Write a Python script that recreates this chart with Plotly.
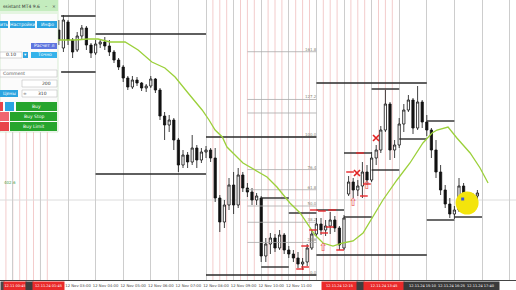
import plotly.graph_objects as go
import pandas as pd

DAY = pd.Timestamp("2024-11-12")


def at(h):
    return DAY + pd.Timedelta(hours=h)


# ---------------- candles (10-minute bars) ----------------
candle_start = "2024-11-12 02:40"
opens = [270, 252, 278, 260, 250, 264, 272, 255, 247, 256, 258, 254, 248, 240, 233, 222, 213, 220, 217, 212,
         214, 221, 210, 184, 175, 180, 160, 135, 145, 138, 152, 140, 148, 150, 142, 102, 78, 95, 115, 95,
         125, 112, 108, 100, 102, 44, 56, 62, 52, 65, 50, 46, 42, 36, 38, 52, 66, 76, 70, 74,
         80, 72, 52, 106, 118, 110, 114, 128, 120, 142, 150, 170, 196, 150, 155, 176, 190, 200, 172, 198,
         178, 170, 150, 128, 110, 96, 86, 90, 114, 100, 95, 104]
highs = [280, 285, 280, 262, 268, 275, 274, 257, 260, 260, 263, 260, 250, 242, 235, 224, 224, 223, 218, 216,
         224, 222, 212, 188, 185, 182, 162, 150, 148, 165, 155, 152, 154, 152, 152, 105, 100, 122, 128, 132,
         128, 117, 112, 107, 104, 62, 67, 66, 70, 67, 54, 50, 48, 42, 56, 70, 82, 82, 80, 88,
         84, 74, 85, 124, 122, 120, 138, 135, 148, 155, 174, 210, 198, 160, 182, 196, 205, 202, 214, 200,
         185, 172, 160, 135, 115, 102, 94, 122, 117, 105, 107, 110]
lows = [255, 248, 255, 242, 248, 260, 250, 242, 245, 252, 250, 244, 237, 230, 218, 210, 211, 214, 209, 208,
        212, 207, 180, 160, 168, 150, 128, 132, 132, 135, 132, 137, 142, 138, 98, 68, 72, 90, 86, 92,
        108, 103, 95, 95, 38, 38, 46, 48, 50, 46, 42, 38, 32, 30, 34, 50, 64, 65, 64, 66,
        68, 50, 50, 104, 102, 104, 102, 115, 118, 135, 147, 168, 140, 142, 152, 168, 188, 166, 170, 172,
        164, 142, 122, 105, 92, 82, 81, 88, 95, 90, 92, 98]
closes = [260, 280, 260, 248, 264, 272, 255, 247, 256, 258, 254, 248, 240, 233, 222, 213, 220, 217, 212, 214,
          221, 210, 184, 175, 180, 160, 135, 145, 138, 152, 140, 148, 150, 142, 102, 78, 95, 115, 95, 125,
          112, 108, 100, 104, 44, 56, 62, 52, 65, 50, 46, 42, 36, 38, 52, 66, 76, 70, 74, 80,
          72, 55, 82, 118, 110, 114, 128, 120, 142, 150, 170, 196, 150, 155, 176, 190, 200, 172, 198, 178,
          170, 150, 128, 110, 96, 86, 90, 114, 100, 95, 104, 107]
times = pd.date_range(candle_start, periods=len(opens), freq="10min")

# ---------------- moving average ----------------
ma_hours = [2.64, 3.25, 3.73, 4.09, 4.52, 5.07, 5.54, 6.04, 6.51, 6.88,
            7.35, 7.86, 8.11, 8.33, 8.59, 8.76, 9.34, 10.21, 10.57, 11.04,
            11.41, 11.77, 11.95, 12.24, 12.6, 12.96, 13.33, 13.69, 14.01, 14.41,
            14.92, 15.39, 15.86, 16.19, 16.37, 16.77, 17.09, 17.57, 17.93, 18.22]
ma_values = [260, 260, 261, 261, 258, 258, 250, 238, 232, 223,
             207, 190, 180, 170, 163, 153, 137, 123, 113, 97,
             87, 73, 65, 57, 54, 57, 59, 67, 82, 100,
             120, 137, 157, 167, 170, 173, 162, 147, 132, 117]

# ---------------- hourly high/low level lines ----------------
level_start = [2.75, 2.75, 4, 4, 8, 8, 10, 10, 11, 12, 12, 12, 13, 13, 14, 14, 15, 16, 16, 17]
level_end = [4, 4, 8, 8, 12, 12, 11, 11, 12, 13, 16, 16, 14, 14, 15, 15, 16, 17, 17, 18]
level_price = [284, 228, 266, 126, 163, 25, 102, 33, 87, 90, 45, 217, 147, 83, 211, 130, 161, 179, 80, 83]

# ---------------- Fibonacci grid ----------------
fib_start, fib_end = 9.5, 12.0
fib_low, fib_high = 25, 163
fib_ratios = [0.0, 23.6, 38.2, 50.0, 61.8, 76.4, 100.0, 117.4, 127.2, 161.8]
fib_labels = ["0.0", "23.6", "38.2", "50.0", "61.8", "76.4", "100.0", "", "127.2", "161.8"]

# ---------------- pending-order marks ----------------
dash_hours = [11.41, 11.59, 11.59, 11.88, 11.91, 12.2, 12.57, 12.28, 12.49, 12.86, 13.22, 13.58, 13.72, 13.83]
dash_price = [31, 33, 54, 70, 90, 89, 90, 67, 73, 50, 128, 147, 104, 116]
cross_hours = [13.47, 14.16]
cross_price = [127, 162]
arrow_hours = [12.24, 13.33, 13.83]
arrow_price = [52, 97, 114]
circle_hour, circle_price = 17.46, 97

# ---------------- time scale ----------------
grid_hours = list(range(0, 20))
labelled_hours = [3, 4, 5, 6, 7, 8, 9, 10, 11]

pink_lines = ["00:45", "01:00", "01:15", "01:30", "01:45", "02:00", "02:15",
              "08:15", "08:30", "08:45", "09:15", "09:30", "09:45", "10:15", "10:30", "10:45",
              "11:15", "11:30", "11:45", "12:15", "12:30", "12:45", "13:15", "13:30", "13:45",
              "14:15", "14:30", "14:45"]

# labels of those lines on the time scale: (start hour, width px, colour, text)
badges = [(0.536, 3, "#4a4a4a", ""), (0.645, 22, "#ea2a2a", "12.11 00:45"),
          (1.442, 7, "#3e3e3e", ""), (1.696, 31, "#ea2a2a", "12.11.24 01:45"),
          (12.167, 35, "#ea2a2a", "12.11.24 12:15"), (13.435, 7, "#3e3e3e", ""),
          (13.688, 40, "#ea2a2a", "12.11.24 13:45"),
          (15.138, 95, "#3a3a3a", "12.11.24 15:10  12.11.24 16:25  12.11.24 17:40")]

W, H_PLOT = 516, 280

fig = go.Figure()

fig.add_trace(go.Scatter(x=[at(circle_hour)], y=[circle_price], mode="markers",
                         marker=dict(size=23, color="#f3e40c", line=dict(width=0)), hoverinfo="skip"))

# fib lines
fx, fy = [], []
for r in fib_ratios:
    p = fib_low + (fib_high - fib_low) * r / 100.0
    fx += [at(fib_start), at(fib_end), None]
    fy += [p, p, None]
fig.add_trace(go.Scatter(x=fx, y=fy, mode="lines", line=dict(color="#a9a9a9", width=0.8), hoverinfo="skip"))
fig.add_trace(go.Scatter(x=[at(fib_end)] * len(fib_ratios),
                         y=[fib_low + (fib_high - fib_low) * r / 100.0 for r in fib_ratios],
                         mode="text", text=fib_labels, textposition="top left",
                         textfont=dict(size=4, color="#8a8a7a", family="DejaVu Sans"), hoverinfo="skip"))

# level lines
lx, ly = [], []
for s, e, p in zip(level_start, level_end, level_price):
    lx += [at(s), at(e), None]
    ly += [p, p, None]
fig.add_trace(go.Scatter(x=lx, y=ly, mode="lines", line=dict(color="#2a2a2a", width=1.4), hoverinfo="skip"))

# MA
fig.add_trace(go.Scatter(x=[at(h) for h in ma_hours], y=ma_values, mode="lines",
                         line=dict(color="#9bd03a", width=1.3), hoverinfo="skip"))

# candles
fig.add_trace(go.Candlestick(x=times, open=opens, high=highs, low=lows, close=closes,
                             increasing=dict(line=dict(color="#111111", width=0.8), fillcolor="white"),
                             decreasing=dict(line=dict(color="#111111", width=0.8), fillcolor="#111111"),
                             whiskerwidth=0, hoverinfo="skip"))

# red order dashes
dx, dy = [], []
for h, p in zip(dash_hours, dash_price):
    dx += [at(h - 0.14), at(h + 0.14), None]
    dy += [p, p, None]
fig.add_trace(go.Scatter(x=dx, y=dy, mode="lines", line=dict(color="#e8272b", width=1.4), hoverinfo="skip"))
fig.add_trace(go.Scatter(x=[at(h) for h in cross_hours], y=cross_price, mode="markers",
                         marker=dict(symbol="x-thin", size=6, line=dict(color="#e02020", width=1.6)),
                         hoverinfo="skip"))
fig.add_trace(go.Scatter(x=[at(h) for h in arrow_hours], y=arrow_price, mode="text", text=["⇧"] * len(arrow_hours),
                         textfont=dict(size=11, color="#e84848", family="DejaVu Sans"), hoverinfo="skip"))
fig.add_trace(go.Scatter(x=[at(17.3)], y=[101], mode="markers",
                         marker=dict(size=3, color="#3a56d8", symbol="square"), hoverinfo="skip"))

shapes = []
for hm in pink_lines:
    hh, mm = hm.split(":")
    t = at(int(hh) + int(mm) / 60)
    shapes.append(dict(type="line", xref="x", yref="paper", x0=t, x1=t, y0=0, y1=1,
                       line=dict(color="#f3cccc", width=1), layer="below"))
shapes.append(dict(type="line", xref="paper", yref="y", x0=0, x1=1, y0=100, y1=100,
                   line=dict(color="#dcdcdc", width=1), layer="below"))


# ---------------- left trading panel (UI chrome, pixel coordinates) ----------------
def px(x):
    return x / W


def py(y):
    return 1 - y / H_PLOT


panel_boxes = [
    (0, 0, 58, 132, "#fbfbfb", "#bfe0ba"),
    (0, 0, 58, 11, "#c4ecbe", None),
    (0, 11, 58, 14, "#e4f5e0", None),
    (0, 21, 8, 28, "#2ba4e0", None), (10, 21, 35, 28, "#2ba4e0", None), (37, 21, 57, 28, "#2ba4e0", None),
    (31, 43, 57, 49, "#5f77df", None),
    (0, 52, 22, 58, "#ffffff", "#b8b8b8"), (23, 52, 28, 58, "#2ba4e0", None), (31, 52, 57, 58, "#35b3ea", None),
    (0, 70, 57, 77, "#ffffff", "#c0c0c0"),
    (22, 80, 57, 87, "#ffffff", "#c0c0c0"),
    (0, 90, 18, 97, "#2ba4e0", None), (22, 90, 57, 97, "#ffffff", "#c0c0c0"),
    (0, 102, 3, 111, "#e8434a", None), (5, 102, 14, 111, "#2ba4e0", None), (16, 102, 57, 111, "#26a52d", None),
    (0, 112, 9, 121, "#f06470", None), (10, 112, 57, 121, "#26a52d", None),
    (0, 122, 9, 131, "#e8434a", None), (10, 122, 57, 131, "#26a52d", None),
]
for x0, y0, x1, y1, fill, border in panel_boxes:
    shapes.append(dict(type="rect", xref="paper", yref="paper", x0=px(x0), x1=px(x1), y0=py(y1), y1=py(y0),
                       fillcolor=fill, line=dict(color=border or fill, width=0.6 if border else 0),
                       layer="above"))

panel_texts = [
    (1, 6, "ssistant MT4 9.6", "#333333", "left"), (46, 6, "–", "#444444", "center"), (54, 6, "×", "#444444", "center"),
    (4, 24.5, "ить", "white", "center"), (22, 24.5, "Настройки", "white", "center"), (47, 24.5, "Инфо", "white", "center"),
    (44, 46, "Расчет л", "white", "center"),
    (11, 55, "0.10", "#333333", "center"), (25.5, 55, "▾", "white", "center"), (44, 55, "Точно", "white", "center"),
    (1, 73.5, "Comment", "#555555", "left"),
    (46, 83.5, "200", "#333333", "center"),
    (9, 93.5, "Цены", "white", "center"), (25, 93.5, "≑", "#777777", "center"), (42, 93.5, "310", "#333333", "center"),
    (36.5, 106.5, "Buy", "white", "center"), (33.5, 116.5, "Buy Stop", "white", "center"),
    (33.5, 126.5, "Buy Limit", "white", "center"),
]
annotations = []
for x, y, t, c, a in panel_texts:
    annotations.append(dict(xref="paper", yref="paper", x=px(x), y=py(y), text=t, showarrow=False,
                            xanchor=a, yanchor="middle", font=dict(size=4.5, color=c, family="DejaVu Sans")))

annotations.append(dict(xref="x", yref="y", x=at(0.6), y=118, text="402.6", showarrow=False, xanchor="left",
                        font=dict(size=4, color="#4aa04a", family="DejaVu Sans")))

for h, w, c, t in badges:
    annotations.append(dict(xref="x", yref="paper", x=at(h), y=0, yshift=-1, xanchor="left", yanchor="top",
                            width=w, height=8, bgcolor=c, borderpad=0, text=t, showarrow=False, align="center",
                            font=dict(size=3.5, color="white", family="DejaVu Sans")))

tick_vals = [at(h) for h in grid_hours]
tick_text = [at(h).strftime("%d %b %H:%M") if h in labelled_hours else "" for h in grid_hours]

fig.update_layout(
    width=516, height=290, margin=dict(l=0, r=0, t=0, b=10, autoexpand=False),
    paper_bgcolor="white", plot_bgcolor="white", showlegend=False,
    shapes=shapes, annotations=annotations,
    xaxis=dict(type="date", range=[at(0.536), at(19.232)], rangeslider=dict(visible=False),
               tickmode="array", tickvals=tick_vals, ticktext=tick_text,
               showgrid=True, gridcolor="#cdcdcd",
               gridwidth=1, showline=True, linecolor="#444444", linewidth=1, ticks="", zeroline=False,
               tickangle=0, automargin=False,
               tickfont=dict(size=3.8, color="#444444", family="DejaVu Sans"), ticklabelshift=10,
               ticklabelstandoff=1),
    yaxis=dict(range=[20, 300], visible=False, showgrid=False, zeroline=False),
)

fig.write_html("out.html")
